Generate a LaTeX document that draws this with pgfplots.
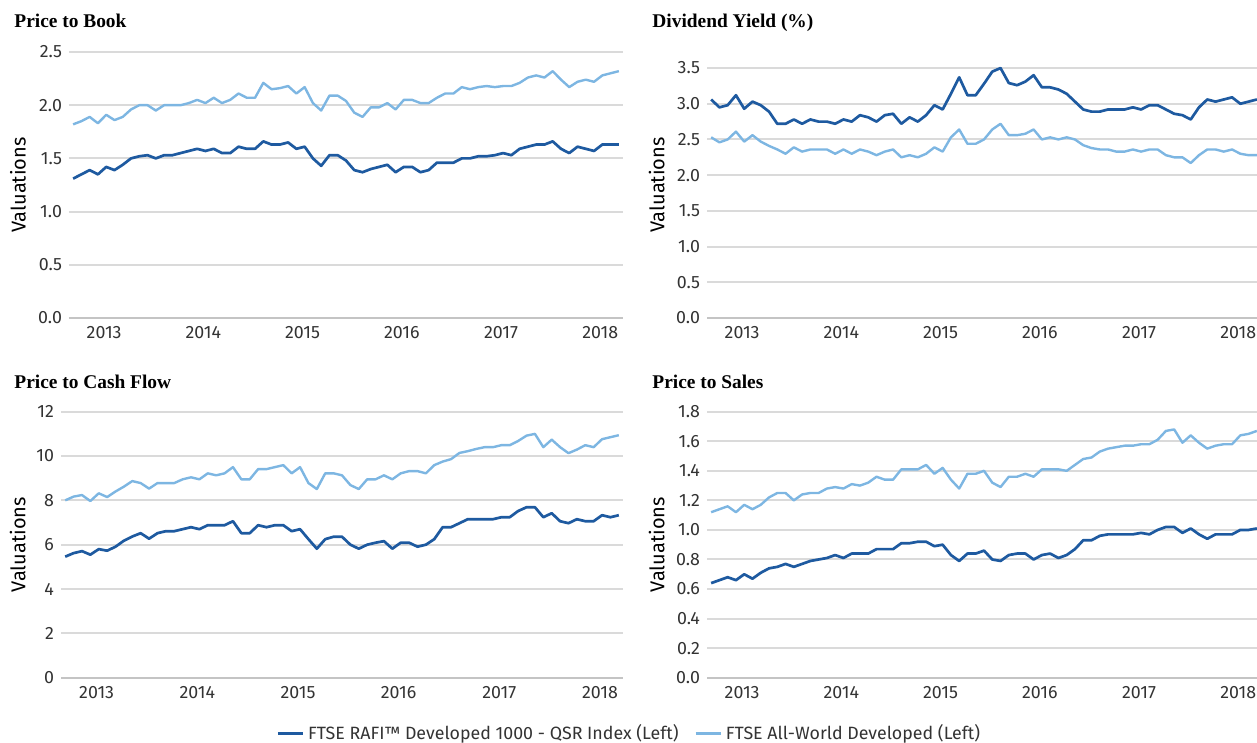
\documentclass[border=0pt]{standalone}
\usepackage{pgfplots}
\pgfplotsset{compat=1.18}
\usepackage{pgfplotstable}
\usepackage{fontspec}
\setmainfont{Fira Sans}
\newfontfamily\titlefont{Liberation Serif}
\definecolor{rafi}{HTML}{1E5AA0}
\definecolor{world}{HTML}{7DB6E2}
\definecolor{gridc}{HTML}{DADADA}
\definecolor{zeroc}{HTML}{C4C4C4}
\definecolor{txt}{HTML}{333333}

\pgfplotstableread{
r w
1.31 1.82
1.35 1.85
1.39 1.89
1.35 1.83
1.42 1.91
1.39 1.86
1.44 1.89
1.50 1.96
1.52 2.00
1.53 2.00
1.50 1.95
1.53 2.00
1.53 2.00
1.55 2.00
1.57 2.02
1.59 2.05
1.57 2.02
1.59 2.07
1.55 2.02
1.55 2.05
1.61 2.11
1.59 2.07
1.59 2.07
1.66 2.21
1.63 2.15
1.63 2.16
1.65 2.18
1.59 2.11
1.61 2.17
1.50 2.02
1.43 1.95
1.53 2.09
1.53 2.09
1.48 2.04
1.39 1.93
1.37 1.89
1.40 1.98
1.42 1.98
1.44 2.02
1.37 1.96
1.42 2.05
1.42 2.05
1.37 2.02
1.39 2.02
1.46 2.07
1.46 2.11
1.46 2.11
1.50 2.17
1.50 2.15
1.52 2.17
1.52 2.18
1.53 2.17
1.55 2.18
1.53 2.18
1.59 2.21
1.61 2.26
1.63 2.28
1.63 2.26
1.66 2.32
1.59 2.24
1.55 2.17
1.61 2.22
1.59 2.24
1.57 2.22
1.63 2.28
1.63 2.30
1.63 2.32
}\pbdata

\pgfplotstableread{
r w
3.06 2.53
2.95 2.46
2.98 2.50
3.12 2.61
2.93 2.47
3.03 2.56
2.98 2.47
2.89 2.41
2.72 2.36
2.72 2.30
2.78 2.39
2.72 2.33
2.78 2.36
2.75 2.36
2.75 2.36
2.72 2.30
2.78 2.36
2.75 2.30
2.84 2.36
2.81 2.33
2.75 2.28
2.84 2.33
2.86 2.36
2.72 2.25
2.81 2.28
2.75 2.25
2.84 2.30
2.98 2.39
2.92 2.33
3.14 2.53
3.37 2.64
3.12 2.44
3.12 2.44
3.28 2.50
3.45 2.64
3.50 2.72
3.29 2.56
3.26 2.56
3.31 2.58
3.40 2.64
3.23 2.50
3.23 2.53
3.20 2.50
3.14 2.53
3.03 2.50
2.92 2.42
2.89 2.38
2.89 2.36
2.92 2.36
2.92 2.33
2.92 2.33
2.95 2.36
2.92 2.33
2.98 2.36
2.98 2.36
2.92 2.28
2.86 2.25
2.84 2.25
2.78 2.17
2.95 2.28
3.06 2.36
3.03 2.36
3.06 2.33
3.09 2.36
3.00 2.30
3.03 2.28
3.06 2.28
}\dydata

\pgfplotstableread{
r w
5.46 8.00
5.62 8.17
5.71 8.24
5.55 7.97
5.80 8.32
5.73 8.15
5.91 8.40
6.18 8.62
6.37 8.87
6.52 8.78
6.27 8.53
6.52 8.78
6.61 8.78
6.61 8.78
6.70 8.95
6.79 9.04
6.70 8.95
6.88 9.22
6.88 9.13
6.88 9.22
7.06 9.50
6.52 8.95
6.52 8.95
6.88 9.41
6.79 9.41
6.88 9.50
6.88 9.59
6.61 9.22
6.70 9.50
6.25 8.78
5.82 8.51
6.25 9.22
6.36 9.22
6.36 9.13
6.00 8.69
5.82 8.51
6.00 8.95
6.09 8.95
6.16 9.13
5.82 8.95
6.09 9.22
6.09 9.32
5.91 9.32
6.00 9.22
6.25 9.59
6.79 9.75
6.79 9.86
6.97 10.14
7.15 10.22
7.15 10.32
7.15 10.40
7.15 10.40
7.24 10.49
7.24 10.49
7.52 10.68
7.69 10.92
7.69 11.00
7.24 10.40
7.42 10.74
7.06 10.40
6.97 10.13
7.15 10.29
7.06 10.49
7.06 10.40
7.33 10.76
7.24 10.85
7.33 10.94
}\pcfdata

\pgfplotstableread{
r w
0.64 1.12
0.66 1.14
0.68 1.16
0.66 1.12
0.70 1.17
0.67 1.14
0.71 1.17
0.74 1.22
0.75 1.25
0.77 1.25
0.75 1.20
0.77 1.24
0.79 1.25
0.80 1.25
0.81 1.28
0.83 1.29
0.81 1.28
0.84 1.31
0.84 1.30
0.84 1.32
0.87 1.36
0.87 1.34
0.87 1.34
0.91 1.41
0.91 1.41
0.92 1.41
0.92 1.44
0.89 1.38
0.90 1.42
0.83 1.34
0.79 1.28
0.84 1.38
0.84 1.38
0.86 1.40
0.80 1.32
0.79 1.29
0.83 1.36
0.84 1.36
0.84 1.38
0.80 1.36
0.83 1.41
0.84 1.41
0.81 1.41
0.83 1.40
0.87 1.44
0.93 1.48
0.93 1.49
0.96 1.53
0.97 1.55
0.97 1.56
0.97 1.57
0.97 1.57
0.98 1.58
0.97 1.58
1.00 1.61
1.02 1.67
1.02 1.68
0.98 1.59
1.01 1.64
0.97 1.59
0.94 1.55
0.97 1.57
0.97 1.58
0.97 1.58
1.00 1.64
1.00 1.65
1.01 1.67
}\psdata

\pgfplotsset{
  panel/.style={
    scale only axis, width=277pt, height=133pt, anchor=south west,
    xmin=-0.5, xmax=66.5, ymin=0,
    axis line style={draw=none},
    ymajorgrids, grid style={gridc, line width=1pt},
    major tick length=0pt,
    extra y ticks={0}, extra y tick labels={},
    extra y tick style={grid style={zeroc, line width=1.1pt}},
    xtick={3.75,15.75,27.75,39.75,51.75,63.75},
    xticklabels={2013,2014,2015,2016,2017,2018},
    tick label style={font=\fontsize{8.9}{10}\selectfont, text=txt},
    xticklabel style={yshift=-0.7pt},
    /pgf/number format/assume math mode=true,
    ylabel={Valuations},
    label style={font=\fontsize{8.5}{10}\selectfont, text=txt},
    clip=false,
  },
  rafiline/.style={rafi, line width=1.35pt, line join=round},
  worldline/.style={world, line width=1.2pt, line join=round},
}

\begin{document}
\begin{tikzpicture}
\useasboundingbox (0,0) rectangle (628.5pt,-371.5pt);

\tikzset{ttl/.style={anchor=base west, inner sep=0pt, font=\titlefont\bfseries\fontsize{9.7}{11}\selectfont}}
\node[ttl] at (7pt,-14pt) {Price to Book};
\node[ttl] at (326pt,-14pt) {Dividend Yield (\%)};
\node[ttl] at (7pt,-194pt) {Price to Cash Flow};
\node[ttl] at (326pt,-194pt) {Price to Sales};

% Price to Book
\begin{axis}[panel, at={(34.5pt,-159pt)}, ymax=2.5,
  ytick={0,0.5,1,1.5,2,2.5}, yticklabels={0.0,0.5,1.0,1.5,2.0,2.5},
  every axis y label/.style={at={(axis description cs:-0.092,0.5)}, rotate=90, anchor=center}]
\addplot[worldline] table[x expr=\coordindex, y=w]{\pbdata};
\addplot[rafiline] table[x expr=\coordindex, y=r]{\pbdata};
\end{axis}

% Dividend Yield
\begin{axis}[panel, at={(353.5pt,-159pt)}, ymax=3.725,
  ytick={0,0.5,1,1.5,2,2.5,3,3.5}, yticklabels={0.0,0.5,1.0,1.5,2.0,2.5,3.0,3.5},
  every axis y label/.style={at={(axis description cs:-0.091,0.5)}, rotate=90, anchor=center}]
\addplot[worldline] table[x expr=\coordindex, y=w]{\dydata};
\addplot[rafiline] table[x expr=\coordindex, y=r]{\dydata};
\end{axis}

% Price to Cash Flow
\begin{axis}[panel, at={(30.5pt,-338.85pt)}, width=281pt, ymax=12,
  ytick={0,2,4,6,8,10,12}, yticklabels={0,2,4,6,8,10,12},
  every axis y label/.style={at={(axis description cs:-0.077,0.5)}, rotate=90, anchor=center},
  legend columns=2,
  legend style={at={(axis description cs:0.3826,-0.209)}, anchor=west, draw=none, fill=none, inner sep=0pt,
    font=\fontsize{8.9}{10}\selectfont, text=txt,
    /tikz/every even column/.append style={column sep=6pt}},
  legend cell align=left,
  legend image code/.code={\draw[#1] (0pt,0pt) -- (12.5pt,0pt);}]
\addplot[rafiline] table[x expr=\coordindex, y=r]{\pcfdata};
\addlegendentry{FTSE RAFI™ Developed 1000 - QSR Index (Left)}
\addplot[worldline] table[x expr=\coordindex, y=w]{\pcfdata};
\addlegendentry{FTSE All-World Developed (Left)}
\end{axis}

% Price to Sales
\begin{axis}[panel, at={(353.5pt,-338.85pt)}, ymax=1.8,
  ytick={0,0.2,0.4,0.6,0.8,1,1.2,1.4,1.6,1.8}, yticklabels={0.0,0.2,0.4,0.6,0.8,1.0,1.2,1.4,1.6,1.8},
  every axis y label/.style={at={(axis description cs:-0.091,0.5)}, rotate=90, anchor=center}]
\addplot[worldline] table[x expr=\coordindex, y=w]{\psdata};
\addplot[rafiline] table[x expr=\coordindex, y=r]{\psdata};
\end{axis}
\end{tikzpicture}
\end{document}
